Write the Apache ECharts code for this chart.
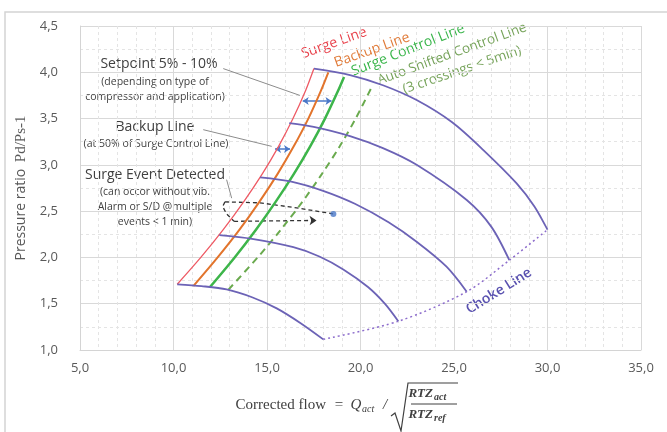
<!DOCTYPE html>
<html lang="en">
<head>
    <meta charset="UTF-8">
    <title>Compressor map</title>
    <script src="https://cdn.jsdelivr.net/npm/echarts@6/dist/echarts.min.js"></script>
    <style>
        body { margin: 0; background: #fff; }
        #main { width: 667px; height: 432px; }
    </style>
</head>
<body>
    <div id="main"></div>
    <script>
        // ticks
        const xTicks = [5, 10, 15, 20, 25, 30, 35];
        const yTicks = [1.0, 1.5, 2.0, 2.5, 3.0, 3.5, 4.0, 4.5];

        // control lines [flow, pressure ratio]
        const surgeLine = [[10.2, 1.71], [11.46, 2.0], [12.66, 2.3], [13.75, 2.6], [14.74, 2.9], [15.62, 3.2], [16.39, 3.5], [17.06, 3.8], [17.51, 4.04]];
        const backupLine = [[11.06, 1.69], [12.36, 2.0], [13.53, 2.3], [14.59, 2.6], [15.56, 2.9], [16.43, 3.2], [17.21, 3.5], [17.88, 3.8], [18.28, 4.0]];
        const controlLine = [[11.95, 1.68], [13.27, 2.0], [14.41, 2.3], [15.46, 2.6], [16.43, 2.9], [17.31, 3.2], [18.1, 3.5], [18.8, 3.8], [19.12, 3.95]];
        const shiftedLine = [[12.93, 1.65], [14.5, 2.0], [15.74, 2.3], [16.89, 2.6], [17.93, 2.9], [18.89, 3.2], [19.74, 3.5], [20.6, 3.84]];

        // speed curves
        const speed1 = [[17.51, 4.04], [19.44, 3.97], [21.2, 3.86], [23.0, 3.7], [24.9, 3.46], [26.57, 3.16], [28.35, 2.8], [29.3, 2.55], [30.0, 2.3]];
        const speed2 = [[16.19, 3.45], [17.5, 3.41], [19.44, 3.31], [21.2, 3.18], [23.0, 3.0], [25.68, 2.62], [27.0, 2.33], [27.96, 1.97]];
        const speed3 = [[14.63, 2.865], [16.3, 2.82], [18.0, 2.72], [19.7, 2.58], [21.5, 2.38], [23.0, 2.17], [24.6, 1.9], [25.68, 1.63]];
        const speed4 = [[12.45, 2.24], [14.2, 2.2], [16.41, 2.11], [17.8, 2.01], [19.08, 1.87], [20.4, 1.68], [21.3, 1.5], [22.02, 1.31]];
        const speed5 = [[10.2, 1.71], [11.5, 1.69], [12.84, 1.655], [14.2, 1.57], [15.52, 1.45], [16.8, 1.29], [18.01, 1.115]];
        const chokeLine = [[18.01, 1.115], [22.02, 1.31], [25.68, 1.63], [27.96, 1.97], [30.0, 2.3]];

        // annotations
        const setpointArrow = [[16.91, 3.69], [18.45, 3.69]];
        const backupArrow = [[15.43, 3.17], [16.23, 3.17]];
        const leaders = [
            [[12.66, 4.04], [16.76, 3.75]],
            [[11.59, 3.38], [15.25, 3.2]],
            [[12.84, 2.84], [13.11, 2.64]]
        ];
        const eventUpper = [[12.75, 2.6], [14.63, 2.59], [16.76, 2.53], [18.55, 2.47]];
        const eventBracket = [[12.75, 2.6], [12.63, 2.55], [12.84, 2.47], [13.24, 2.39]];
        const eventLower = [[13.24, 2.39], [17.65, 2.4]];
        const eventPoint = [[18.55, 2.47]];

        const chart = echarts.init(document.getElementById('main'));

        const fmt = v => v.toFixed(1).replace('.', ',');
        const sans = "'Open Sans', 'Liberation Sans', sans-serif";
        const serif = "'Liberation Serif', 'DejaVu Serif', serif";
        const speedColor = '#6c63b6';
        const textColor = '#404040';

        function curve(data, color, width, type) {
            return {
                type: 'line', data: data, smooth: 0.3, symbol: 'none', silent: true,
                lineStyle: { color: color, width: width, type: type || 'solid' }
            };
        }

        function label(text, x, y, deg, color, size, weight) {
            return {
                type: 'text', x: x, y: y, rotation: deg * Math.PI / 180,
                style: {
                    text: text, fill: color, font: (weight || 'normal') + ' ' + size + 'px ' + sans,
                    textAlign: 'center', textVerticalAlign: 'middle'
                }
            };
        }

        function formula(text, x, y, font, align) {
            return {
                type: 'text', x: x, y: y,
                style: { text: text, fill: textColor, font: font, textAlign: align || 'left', textVerticalAlign: 'middle' }
            };
        }

        let option = {
            animation: false,
            grid: { left: 80, right: 26, top: 26, bottom: 82 },
            xAxis: {
                type: 'value', min: 5, max: 35, interval: 5,
                axisLine: { show: true, lineStyle: { color: '#d4d4d4' } },
                axisTick: { show: false },
                axisLabel: { formatter: fmt, color: '#595959', fontSize: 13, margin: 12, fontFamily: sans },
                splitLine: { lineStyle: { color: '#d9d9d9' } },
                minorTick: { show: false, splitNumber: 5 },
                minorSplitLine: { show: true, lineStyle: { color: '#e4e4e4', type: [3, 3] } }
            },
            yAxis: {
                type: 'value', min: 1, max: 4.5, interval: 0.5,
                name: '{a|Pressure ratio}  {b|Pd/Ps-1}',
                nameLocation: 'middle', nameRotate: 90, nameGap: 42,
                nameTextStyle: {
                    rich: {
                        a: { fontSize: 14, color: '#595959', fontFamily: sans },
                        b: { fontSize: 15, color: '#595959', fontFamily: serif }
                    }
                },
                axisLine: { show: true, lineStyle: { color: '#d4d4d4' } },
                axisTick: { show: false },
                axisLabel: { formatter: fmt, color: '#595959', fontSize: 13, margin: 22, fontFamily: sans },
                splitLine: { lineStyle: { color: '#d9d9d9' } },
                minorTick: { show: false, splitNumber: 2 },
                minorSplitLine: { show: true, lineStyle: { color: '#e4e4e4', type: [3, 3] } }
            },
            series: [
                curve(surgeLine, '#ee5a64', 1.3),
                curve(backupLine, '#e2742c', 2),
                curve(controlLine, '#3db54a', 2.5),
                curve(shiftedLine, '#6aaa4e', 2, [7, 5]),
                curve(speed1, speedColor, 1.8),
                curve(speed2, speedColor, 1.8),
                curve(speed3, speedColor, 1.8),
                curve(speed4, speedColor, 1.8),
                curve(speed5, speedColor, 1.8),
                curve(chokeLine, '#8c6ccc', 1.5, [2, 3]),
                {
                    type: 'lines', coordinateSystem: 'cartesian2d', silent: true,
                    symbol: 'none',
                    lineStyle: { color: '#8c8c8c', width: 1, opacity: 1 },
                    data: leaders.map(c => ({ coords: c }))
                },
                {
                    type: 'lines', coordinateSystem: 'cartesian2d', silent: true,
                    symbol: ['arrow', 'arrow'], symbolSize: 6,
                    lineStyle: { color: '#4a78c8', width: 1.5, opacity: 1 },
                    data: [{ coords: setpointArrow }, { coords: backupArrow }]
                },
                {
                    type: 'lines', coordinateSystem: 'cartesian2d', polyline: true, silent: true,
                    lineStyle: { color: '#333', width: 1.3, type: [4, 3], opacity: 1 },
                    data: [{ coords: eventUpper }, { coords: eventBracket }]
                },
                {
                    type: 'lines', coordinateSystem: 'cartesian2d', silent: true,
                    symbol: ['none', 'arrow'], symbolSize: 7,
                    lineStyle: { color: '#333', width: 1.3, type: [4, 3], opacity: 1 },
                    data: [{ coords: eventLower }]
                },
                {
                    type: 'scatter', data: eventPoint, symbolSize: 6, silent: true,
                    itemStyle: { color: '#4a78c8' }
                }
            ],
            graphic: [
                { type: 'rect', shape: { x: 5, y: 12, width: 700, height: 440 }, style: { fill: 'none', stroke: '#d4d4d4', lineWidth: 1.5 }, z: -10 },
                label('Surge Line', 334, 43, 19.6, '#e8404a', 14),
                label('Backup Line', 372, 50, 19.5, '#e07b39', 14),
                label('Surge Control Line', 408, 50, 21.5, '#39b54a', 14),
                label('Auto Shifted Control Line', 452, 54, 20, '#76a35a', 13.5),
                label('(3 crossings < 5min)', 462, 70, 18.7, '#76a35a', 13.5),
                label('Choke Line', 499, 291, 32, '#5a52b0', 14, 600),
                label('Setpoint 5% - 10%', 159, 64, 0, textColor, 14),
                label('(depending on type of', 155, 82, 0, textColor, 10.5),
                label('compressor and application)', 155, 97, 0, textColor, 10.5),
                label('Backup Line', 155, 127, 0, textColor, 14),
                label('(at 50% of Surge Control Line)', 156, 144, 0, textColor, 10.5),
                label('Surge Event Detected', 155, 175, 0, textColor, 14),
                label('(can occor without vib.', 155, 192, 0, textColor, 10.5),
                label('Alarm or S/D @multiple', 155, 207, 0, textColor, 10.5),
                label('events < 1 min)', 155, 222, 0, textColor, 10.5),
                // x axis formula
                formula('Corrected flow', 326, 405, '15px ' + serif, 'right'),
                formula('=', 339, 405, '15px ' + serif, 'center'),
                formula('Q', 356, 405, 'italic 15px ' + serif, 'center'),
                formula('act', 362, 409, 'italic 10px ' + serif),
                formula('/', 385, 405, 'italic 15px ' + serif, 'center'),
                { type: 'polyline', shape: { points: [[391, 416], [395, 413], [401, 431], [408, 383], [458, 383]] }, style: { stroke: textColor, lineWidth: 1.2, fill: 'none' } },
                { type: 'line', shape: { x1: 411, y1: 404, x2: 457, y2: 404 }, style: { stroke: textColor, lineWidth: 1 } },
                formula('RTZ', 433, 394, 'italic bold 13px ' + serif, 'right'),
                formula('act', 434, 397, 'italic bold 10px ' + serif),
                formula('RTZ', 433, 415, 'italic bold 13px ' + serif, 'right'),
                formula('ref', 434, 418, 'italic bold 10px ' + serif)
            ]
        };

        chart.setOption(option);
    </script>
</body>
</html>
